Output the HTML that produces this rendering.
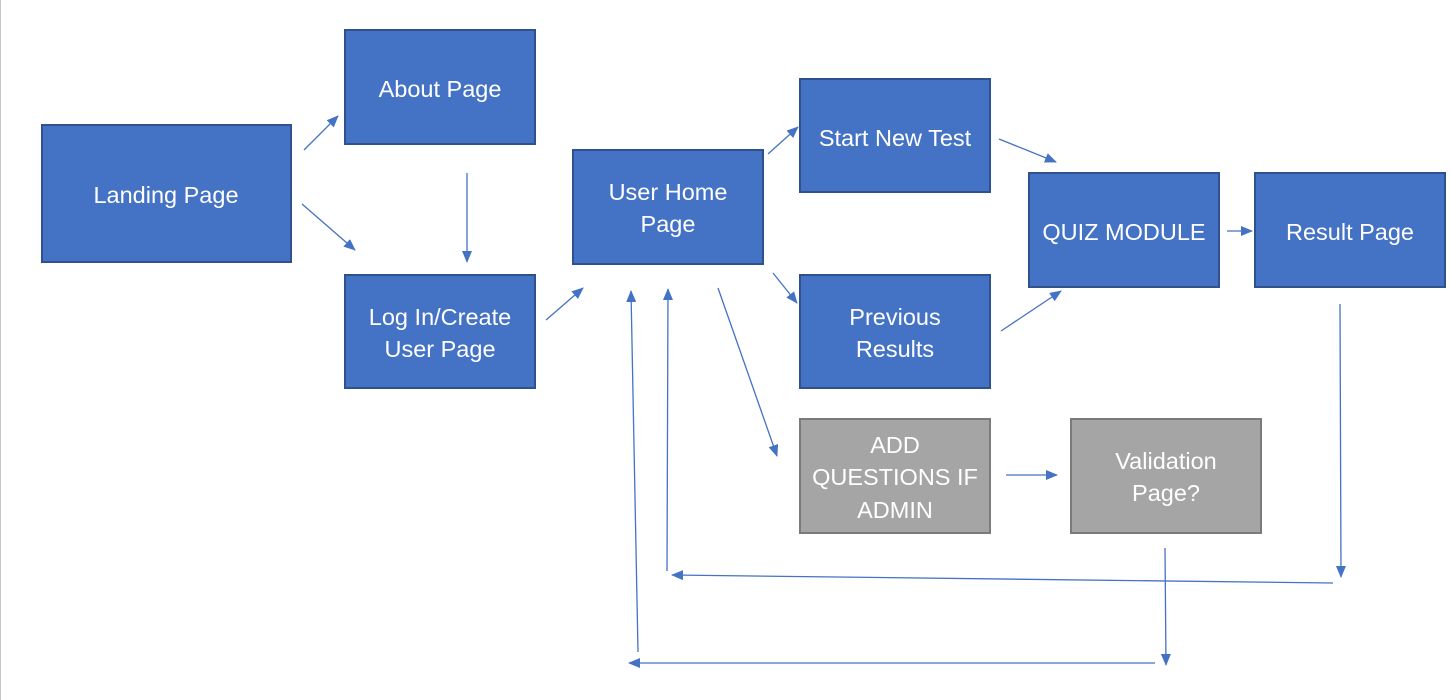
<!DOCTYPE html>
<html><head><meta charset="utf-8"><style>
html,body{margin:0;padding:0;background:#fff;}
svg{display:block;}
text{font-family:"Liberation Sans",sans-serif;font-size:23.5px;fill:#fff;text-anchor:middle;}
</style></head><body>
<svg width="1451" height="700" viewBox="0 0 1451 700" xmlns="http://www.w3.org/2000/svg">
<defs><marker id="a" markerWidth="12" markerHeight="10" refX="11" refY="5" orient="auto" markerUnits="userSpaceOnUse"><path d="M0,0 L12,5 L0,10 z" fill="#4472C4"/></marker></defs>
<line x1="0.5" y1="0" x2="0.5" y2="700" stroke="#c8c8c8"/>
<g stroke-width="2">
<rect x="42" y="125" width="249" height="137" fill="#4472C4" stroke="#2F528F"/>
<rect x="345" y="30" width="190" height="114" fill="#4472C4" stroke="#2F528F"/>
<rect x="345" y="275" width="190" height="113" fill="#4472C4" stroke="#2F528F"/>
<rect x="573" y="150" width="190" height="114" fill="#4472C4" stroke="#2F528F"/>
<rect x="800" y="79" width="190" height="113" fill="#4472C4" stroke="#2F528F"/>
<rect x="800" y="275" width="190" height="113" fill="#4472C4" stroke="#2F528F"/>
<rect x="800" y="419" width="190" height="114" fill="#A5A5A5" stroke="#7B7B7B"/>
<rect x="1071" y="419" width="190" height="114" fill="#A5A5A5" stroke="#7B7B7B"/>
<rect x="1029" y="173" width="190" height="114" fill="#4472C4" stroke="#2F528F"/>
<rect x="1255" y="173" width="190" height="114" fill="#4472C4" stroke="#2F528F"/>
</g>
<text x="166" y="203">Landing Page</text>
<text x="440" y="97">About Page</text>
<text x="440" y="325">Log In/Create</text>
<text x="440" y="357">User Page</text>
<text x="668" y="200">User Home</text>
<text x="668" y="232">Page</text>
<text x="895" y="146">Start New Test</text>
<text x="895" y="325">Previous</text>
<text x="895" y="357">Results</text>
<text x="895" y="453">ADD</text>
<text x="895" y="485">QUESTIONS IF</text>
<text x="895" y="518">ADMIN</text>
<text x="1166" y="469">Validation</text>
<text x="1166" y="501">Page?</text>
<text x="1124" y="240">QUIZ MODULE</text>
<text x="1350" y="240">Result Page</text>
<g stroke="#4472C4" stroke-width="1.3" fill="none" marker-end="url(#a)">
<line x1="304" y1="150" x2="338" y2="116"/>
<line x1="302" y1="204" x2="355" y2="250"/>
<line x1="467" y1="173" x2="467" y2="262"/>
<line x1="546" y1="320" x2="583" y2="288"/>
<line x1="768" y1="154" x2="798" y2="127"/>
<line x1="773" y1="273" x2="797" y2="303"/>
<line x1="718" y1="288" x2="777" y2="456"/>
<line x1="999" y1="139" x2="1056" y2="162"/>
<line x1="1001" y1="331" x2="1061" y2="291"/>
<line x1="1227" y1="231" x2="1252" y2="231"/>
<line x1="1006" y1="475" x2="1057" y2="475"/>
<line x1="1340" y1="304" x2="1341" y2="577"/>
<line x1="1333" y1="583" x2="672" y2="575"/>
<line x1="667" y1="571" x2="668" y2="289"/>
<line x1="1165" y1="548" x2="1166" y2="665"/>
<line x1="1155" y1="663" x2="629" y2="663"/>
<line x1="638" y1="652" x2="631" y2="291"/>
</g>
</svg>
</body></html>
